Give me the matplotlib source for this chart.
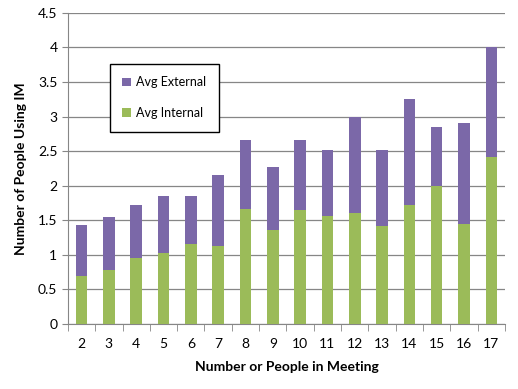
import numpy as np
import matplotlib.pyplot as plt

plt.rcParams['font.family'] = ['Lato', 'DejaVu Sans']

meeting_size = ["2", "3", "4", "5", "6", "7", "8", "9", "10", "11", "12", "13", "14", "15", "16", "17"]
avg_internal = [0.69, 0.78, 0.96, 1.03, 1.16, 1.13, 1.66, 1.36, 1.65, 1.56, 1.61, 1.42, 1.72, 2.00, 1.45, 2.42]
avg_total = [1.43, 1.55, 1.72, 1.85, 1.85, 2.16, 2.66, 2.27, 2.66, 2.52, 2.99, 2.52, 3.26, 2.85, 2.91, 4.00]
avg_external = [t - i for t, i in zip(avg_total, avg_internal)]

fig = plt.figure(figsize=(5.18, 3.89), dpi=100)
ax = fig.add_axes([0.131, 0.167, 0.844, 0.800])

x = np.arange(len(meeting_size))
b_int = ax.bar(x, avg_internal, width=0.42, color="#9bbb59", label="Avg Internal", zorder=3)
b_ext = ax.bar(x, avg_external, width=0.42, bottom=avg_internal, color="#7b68a8",
               label="Avg External", zorder=3)

ax.set_xlim(-0.5, len(x) - 0.5)
ax.set_ylim(0, 4.5)
ax.set_yticks(np.arange(0, 4.51, 0.5))
ax.set_yticklabels(["0", "0.5", "1", "1.5", "2", "2.5", "3", "3.5", "4", "4.5"])
ax.set_xticks(x)
ax.set_xticklabels(meeting_size)
ax.set_xticks(np.arange(-0.5, len(x)), minor=True)
ax.tick_params(axis='x', which='major', length=0, pad=10, labelsize=10)
ax.tick_params(axis='x', which='minor', length=5, color="#868686")
ax.tick_params(axis='y', length=4, color="#868686", labelsize=10)
ax.grid(axis='y', color="#868686", linewidth=0.9, zorder=0)

for s in ['top', 'right']:
    ax.spines[s].set_visible(False)
for s in ['left', 'bottom']:
    ax.spines[s].set_color("#868686")

ax.set_xlabel("Number or People in Meeting", fontweight='bold', fontsize=10, labelpad=8)
ax.set_ylabel("Number of People Using IM", fontweight='bold', fontsize=10, labelpad=8)

leg = ax.legend(handles=[b_ext, b_int], loc='upper left', bbox_to_anchor=(0.096, 0.836),
                borderaxespad=0, fancybox=False, framealpha=1, edgecolor='black', fontsize=9,
                handlelength=0.7, handleheight=0.7, handletextpad=0.4,
                labelspacing=1.5, borderpad=1.0)
leg.get_frame().set_linewidth(1.0)

fig.savefig("out.png", dpi=100)
